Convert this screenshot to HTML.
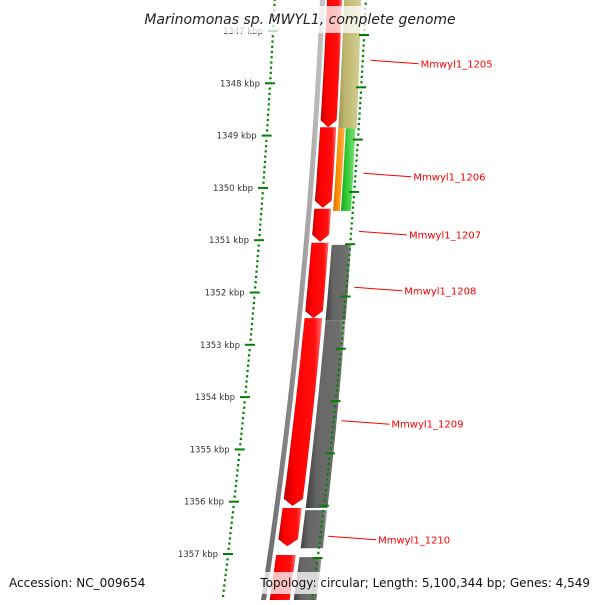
<!DOCTYPE html>
<html><head><meta charset="utf-8"><style>
html,body{margin:0;padding:0;background:#fff;}
svg text{font-family:"DejaVu Sans","Liberation Sans",sans-serif;}
</style></head><body>
<svg id="chart" width="600" height="600" viewBox="0 0 600 600" xmlns="http://www.w3.org/2000/svg">
<defs>
<linearGradient id="gRed" x1="0" x2="1" y1="0" y2="0"><stop offset="0" stop-color="#c00000"/><stop offset="0.3" stop-color="#ff0000"/><stop offset="0.8" stop-color="#ff1010"/><stop offset="1" stop-color="#ff7070"/></linearGradient>
<linearGradient id="gGray" x1="0" x2="1" y1="0" y2="0"><stop offset="0" stop-color="#404040"/><stop offset="0.3" stop-color="#666"/><stop offset="0.85" stop-color="#6e6e6e"/><stop offset="1" stop-color="#aaa"/></linearGradient>
<linearGradient id="gOlive" x1="0" x2="1" y1="0" y2="0"><stop offset="0" stop-color="#9e9658"/><stop offset="0.3" stop-color="#bdb76f"/><stop offset="1" stop-color="#d4cf95"/></linearGradient>
<linearGradient id="gOrange" x1="0" x2="1" y1="0" y2="0"><stop offset="0" stop-color="#d07000"/><stop offset="0.4" stop-color="#ff8c00"/><stop offset="1" stop-color="#ffb050"/></linearGradient>
<linearGradient id="gGreen" x1="0" x2="1" y1="0" y2="0"><stop offset="0" stop-color="#20a020"/><stop offset="0.4" stop-color="#33cc33"/><stop offset="1" stop-color="#80e080"/></linearGradient>
<linearGradient id="gBack" x1="0" x2="1" y1="0" y2="0"><stop offset="0" stop-color="#666"/><stop offset="0.5" stop-color="#8a8a8a"/><stop offset="1" stop-color="#c8c8c8"/></linearGradient>
</defs>
<g id="layer"></g>
</svg>
<script>
// ---- data ----
const kbpTicks = [1347,1348,1349,1350,1351,1352,1353,1354,1355,1356,1357];
const fwdStarts = [1346.3,1348.84,1350.40,1351.05,1352.49,1356.12,1357.02];
const fwdEnds   = [1348.84,1350.38,1351.03,1352.49,1356.08,1356.85,1358.2];
const fwdArrow  = [true,true,true,true,true,true,false];
const hitStarts = [1346.3,1348.86,1348.86,1351.09,1352.53,1356.16,1357.06];
const hitEnds   = [1348.86,1350.44,1350.44,1352.53,1356.12,1356.89,1358.2];
const hitKinds  = ['olive','orange','green','gray','gray','gray','gray'];
const geneNames = ['Mmwyl1_1205','Mmwyl1_1206','Mmwyl1_1207','Mmwyl1_1208','Mmwyl1_1209','Mmwyl1_1210'];
const geneLabelKbp = [1347.58,1349.74,1350.85,1351.92,1354.47,1356.68];

// ---- scales ----
function kbpToY(k){ return 31 + (k-1347)*52.3; }
function quad(p){ // quadratic through 3 points [y,x]
  const [[y0,x0],[y1,x1],[y2,x2]]=p;
  return y=>x0*((y-y1)*(y-y2))/((y0-y1)*(y0-y2))+x1*((y-y0)*(y-y2))/((y1-y0)*(y1-y2))+x2*((y-y0)*(y-y1))/((y2-y0)*(y2-y1));
}
const g = quad([[0,322],[180,311],[600,263]]);
const L = quad([[31,273],[188,263],[554,228]]);
const R = quad([[35,364],[180,355],[570,316]]);
function sc(y){ return 1+y/1800; }

const NS='http://www.w3.org/2000/svg';
const layer=document.getElementById('layer');
function mk(tag,attrs,parent){const e=document.createElementNS(NS,tag);for(const k in attrs)e.setAttribute(k,attrs[k]);(parent||layer).appendChild(e);return e;}

function band(y1,y2,o1,o2,fill,arrow,name){
  const pts=[];const step=4;
  const yEnd=arrow?y2-7:y2;
  for(let y=y1;y<=yEnd;y+=step){pts.push([g(y)+o1*sc(y),y]);}
  pts.push([g(yEnd)+o1*sc(yEnd),yEnd]);
  if(arrow){pts.push([g(y2)+(o1+o2)/2*sc(y2),y2]);}
  pts.push([g(yEnd)+o2*sc(yEnd),yEnd]);
  for(let y=yEnd;y>=y1;y-=step){pts.push([g(y)+o2*sc(y),y]);}
  pts.push([g(y1)+o2*sc(y1),y1]);
  const p=mk('polygon',{points:pts.map(a=>a[0].toFixed(1)+','+a[1].toFixed(1)).join(' '),fill:fill});
  
  
  return p;
}

// backbone
(function(){
  const pts=[];
  for(let y=-5;y<=605;y+=5)pts.push([g(y)-2,y]);
  for(let y=605;y>=-5;y-=5)pts.push([g(y)+3,y]);
  const p=mk('polygon',{points:pts.map(a=>a[0].toFixed(1)+','+a[1]).join(' '),fill:'url(#gBack)'});
  
  
})();

// forward features
for(let i=0;i<fwdStarts.length;i++){
  band(Math.max(-5,kbpToY(fwdStarts[i])),Math.min(605,kbpToY(fwdEnds[i])),5,20,'url(#gRed)',fwdArrow[i],'cds-feature-'+i);
}
// hit track
const kindOff={olive:[22,39],orange:[22,28],green:[29,38],gray:[23,40]};
const kindFill={olive:'url(#gOlive)',orange:'url(#gOrange)',green:'url(#gGreen)',gray:'url(#gGray)'};
for(let i=0;i<hitStarts.length;i++){
  const o=kindOff[hitKinds[i]];
  band(Math.max(-5,kbpToY(hitStarts[i])),Math.min(605,kbpToY(hitEnds[i])),o[0],o[1],kindFill[hitKinds[i]],false,'hit-feature-'+i);
}

// tick rings
function ring(f,side,name){
  const grp=mk('g',{});
  
  
  for(let t=13460;t<=13585;t++){
    const k=t/10;const y=kbpToY(k)+(side>0?4:0);
    if(y<-3||y>603)continue;
    const x=f(y);
    if(t%10===0){
      mk('rect',{x:(x-5).toFixed(1),y:(y-1).toFixed(1),width:10,height:2,fill:'#008000'},grp);
    } else {
      mk('rect',{x:(x-1).toFixed(1),y:(y-1).toFixed(1),width:2.2,height:2.2,fill:'#008000'},grp);
    }
  }
}
ring(L,0,'left-tick-ring');
ring(R,1,'right-tick-ring');

// kbp labels
kbpTicks.forEach(k=>{
  const y=kbpToY(k);
  const t=mk('text',{x:(L(y)-10).toFixed(1),y:(y+3).toFixed(1),'font-size':'8.5','text-anchor':'end',fill:'#333'});
  t.textContent=k+' kbp';
  
  
});

// gene labels
geneNames.forEach((n,i)=>{
  const y=kbpToY(geneLabelKbp[i]);
  const x0=R(y)+8;
  mk('line',{x1:x0.toFixed(1),y1:(y-1).toFixed(1),x2:(x0+48).toFixed(1),y2:(y+2.5).toFixed(1),stroke:'#ff0000','stroke-width':'1'});
  const t=mk('text',{x:(x0+50).toFixed(1),y:(y+6).toFixed(1),'font-size':'10',fill:'#ff0000'});
  t.textContent=n;
  
  
});
</script>
<svg style="position:absolute;left:0;top:0" width="600" height="600">
<rect x="140" y="6" width="318" height="27" fill="#fff" fill-opacity="0.75"/>
<text x="300" y="24" text-anchor="middle" font-size="14" font-style="italic" fill="#222" font-family="DejaVu Sans, Liberation Sans, sans-serif">Marinomonas sp. MWYL1, complete genome</text>
<rect x="255" y="572" width="340" height="22" fill="#fff" fill-opacity="0.75"/>
<text x="9" y="587" font-size="12" fill="#111" font-family="DejaVu Sans, Liberation Sans, sans-serif">Accession: NC_009654</text>
<text x="590" y="587" text-anchor="end" font-size="12" fill="#111" font-family="DejaVu Sans, Liberation Sans, sans-serif">Topology: circular; Length: 5,100,344 bp; Genes: 4,549</text>
</svg>
</body></html>
